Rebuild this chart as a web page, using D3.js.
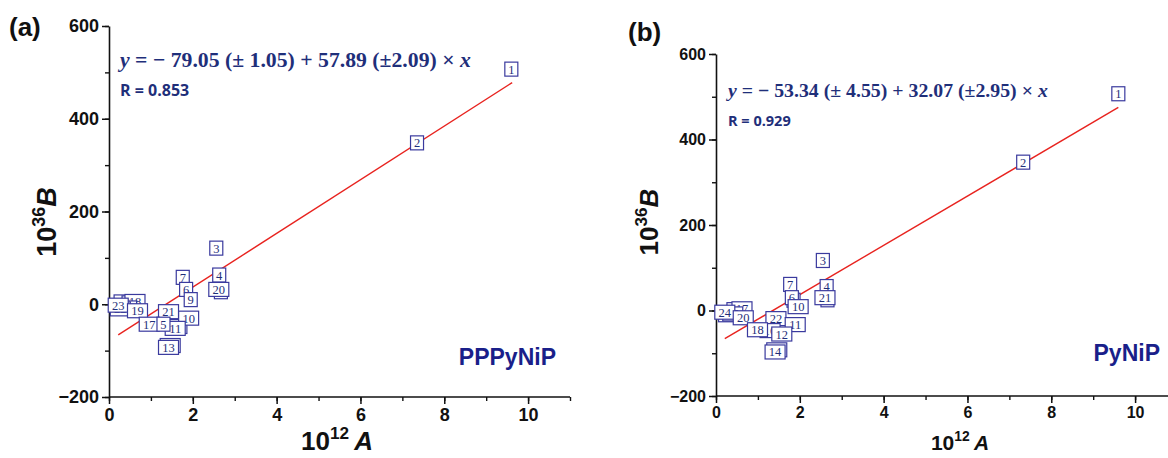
<!DOCTYPE html>
<html><head><meta charset="utf-8">
<script src="https://cdn.jsdelivr.net/npm/d3@7"></script>
<style>body{margin:0;background:#fff;} svg{display:block;}</style>
</head><body>
<svg id="c" width="1168" height="458"></svg>
<script>
// ---- data ----
// panel (a) PPPyNiP: labels, A (10^12), B (10^36); hidden/overlapping points first
const labelsA = ["8","14","12","15","16","18","24","22","23","19","3","4","20","7","6","9","21","10","17","11","5","13","2","1"];
const xA      = [2.67,1.46,1.62,0.36,0.55,0.62,0.42,0.27,0.22,0.68,2.56,2.63,2.62,1.76,1.84,1.95,1.42,1.90,0.96,1.58,1.30,1.42,7.35,9.60];
const yA      = [27,-89,-48,5,3,6,-8,-10,-2,-14,121,63,32,58,32,10,-16,-30,-43,-52,-43,-93,348,507];
const lineA   = [[0.22,-66],[9.62,478]];

// panel (b) PyNiP
const labelsB = ["5","9","13","23","19","17","15","24","20","3","4","21","7","6","10","22","11","16","18","12","14","2","1"];
const xB      = [2.66,1.85,1.45,0.30,0.50,0.62,0.40,0.21,0.65,2.55,2.64,2.60,1.77,1.81,1.96,1.43,1.89,1.29,0.99,1.57,1.41,7.33,9.60];
const yB      = [25,24,-92,-10,2,4,-8,-4,-17,117,56,30,61,30,9,-19,-33,-47,-45,-55,-97,347,507];
const lineB   = [[0.21,-66],[9.60,475]];

const xTicks = [0,2,4,6,8,10];
const yTicks = [-200,0,200,400,600];

const svg = d3.select("#c");
const navy = "#1f2f7a";
const boxC = "#3a3a9e";

function panel(o){
  const g = svg.append("g");
  const x = d3.scaleLinear().domain([0,11]).range(o.xr);
  const y = d3.scaleLinear().domain([-200,600]).range(o.yr);
  // minor ticks
  const ax = d3.axisBottom(x).tickValues(d3.range(0,12,1)).tickSize(4).tickFormat("");
  const ay = d3.axisLeft(y).tickValues(d3.range(-200,601,100)).tickSize(4).tickFormat("");
  g.append("g").attr("transform",`translate(0,${o.yr[0]})`).call(ax).call(s=>s.select(".domain").remove()).selectAll("line").attr("stroke","#111").attr("stroke-width",1.4);
  g.append("g").attr("transform",`translate(${o.xr[0]},0)`).call(ay).call(s=>s.select(".domain").remove()).selectAll("line").attr("stroke","#111").attr("stroke-width",1.4);
  const gx = g.append("g").attr("transform",`translate(0,${o.yr[0]})`)
    .call(d3.axisBottom(x).tickValues(xTicks).tickSize(7).tickPadding(4).tickSizeOuter(0));
  const gy = g.append("g").attr("transform",`translate(${o.xr[0]},0)`)
    .call(d3.axisLeft(y).tickValues(yTicks).tickSize(7).tickPadding(3).tickSizeOuter(0).tickFormat(d=>d<0?"\u2212"+(-d):d));
  [gx,gy].forEach(a=>{
    a.select(".domain").attr("stroke","#111").attr("stroke-width",1.6);
    a.selectAll("line").attr("stroke","#111").attr("stroke-width",1.5);
    a.selectAll("text").attr("fill","#111").attr("font-family","Liberation Sans, Arial, sans-serif")
     .attr("font-weight","bold").attr("font-size",o.tf);
  });
  gx.select(".domain").attr("d",`M${o.xr[0]},0H${o.xr[1]}`);
  // fit line
  g.append("path").datum(o.line)
    .attr("d",d3.line().x(d=>x(d[0])).y(d=>y(d[1])))
    .attr("stroke","#e8231f").attr("stroke-width",1.4).attr("fill","none");
  // markers
  o.labels.forEach((lab,i)=>{
    const cx = x(o.xs[i]), cy = y(o.ys[i]);
    const w = lab.length>1 ? 20 : 13, h = 14;
    const m = g.append("g");
    m.append("rect").attr("x",cx-w/2).attr("y",cy-h/2).attr("width",w).attr("height",h)
      .attr("fill","#fff").attr("stroke",boxC).attr("stroke-width",1.2);
    m.append("text").attr("x",cx).attr("y",cy+4.5).attr("text-anchor","middle")
      .attr("font-family","Liberation Serif, Times New Roman, serif").attr("font-size",12.5)
      .attr("fill",navy).text(lab);
  });
  // axis titles
  const yt = g.append("text").attr("transform",`translate(${o.ytx},${o.yty}) rotate(-90)`)
    .attr("text-anchor","middle").attr("font-family","Liberation Sans, Arial, sans-serif")
    .attr("font-weight","bold").attr("font-size",o.ytf).attr("fill","#111");
  yt.append("tspan").text("10");
  yt.append("tspan").attr("font-size",o.ytf*0.66).attr("dy",-o.ytf*0.42).text("36");
  yt.append("tspan").attr("font-style","italic").attr("dy",o.ytf*0.42).text("B");
  const xt = g.append("text").attr("x",o.xtx).attr("y",o.xty)
    .attr("text-anchor","middle").attr("font-family","Liberation Sans, Arial, sans-serif")
    .attr("font-weight","bold").attr("font-size",o.xtf).attr("fill","#111");
  xt.append("tspan").text("10");
  xt.append("tspan").attr("font-size",o.xtf*0.66).attr("dy",-o.xtf*0.42).text("12");
  xt.append("tspan").attr("font-style","italic").attr("dy",o.xtf*0.42).text("\u2009A");
  // panel letter
  g.append("text").attr("x",o.px).attr("y",o.py).attr("font-family","Liberation Sans, Arial, sans-serif")
    .attr("font-weight","bold").attr("font-size",26).attr("fill","#111").text(o.letter);
  // equation (font size fitted to the reference width)
  const eq = g.append("text").attr("x",o.ex).attr("y",o.ey)
    .attr("font-family","Liberation Serif, Times New Roman, serif").attr("font-weight","bold")
    .attr("font-size",18).attr("fill",navy);
  eq.append("tspan").attr("font-style","italic").text("y");
  eq.append("tspan").text(" = \u2212 " + o.eq + " \u00d7 ");
  eq.append("tspan").attr("font-style","italic").text("x");
  const len = eq.node().getComputedTextLength();
  if (len > 0) eq.attr("font-size", 18 * o.ew / len);
  g.append("text").attr("x",o.ex).attr("y",o.ry)
    .attr("font-family","Open Sans, Liberation Sans, sans-serif").attr("font-weight","bold")
    .attr("font-size",o.rf).attr("fill",navy).text(o.r);
  // sample name
  g.append("text").attr("x",o.nx).attr("y",o.ny).attr("text-anchor","end")
    .attr("font-family","Liberation Sans, Arial, sans-serif").attr("font-weight","bold")
    .attr("font-size",23).attr("fill","#1a1f8a").text(o.name);
}

panel({xr:[109,570], yr:[397,26], labels:labelsA, xs:xA, ys:yA, line:lineA, tf:18,
  ytx:56, yty:222, ytf:27, xtx:337, xty:450, xtf:26, letter:"(a)", px:9, py:36,
  ex:120, ey:67, ew:351, eq:"79.05 (\u00b1 1.05) + 57.89 (\u00b12.09)", ry:96, rf:16, r:"R = 0.853",
  nx:556, ny:365, name:"PPPyNiP"});
panel({xr:[716,1177], yr:[396,54], labels:labelsB, xs:xB, ys:yB, line:lineB, tf:16,
  ytx:658, yty:222, ytf:26, xtx:960, xty:450, xtf:21, letter:"(b)", px:628, py:41,
  ex:728, ey:97, ew:320, eq:"53.34 (\u00b1 4.55) + 32.07 (\u00b12.95)", ry:126, rf:14.5, r:"R = 0.929",
  nx:1160, ny:361, name:"PyNiP"});
</script>
</body></html>
